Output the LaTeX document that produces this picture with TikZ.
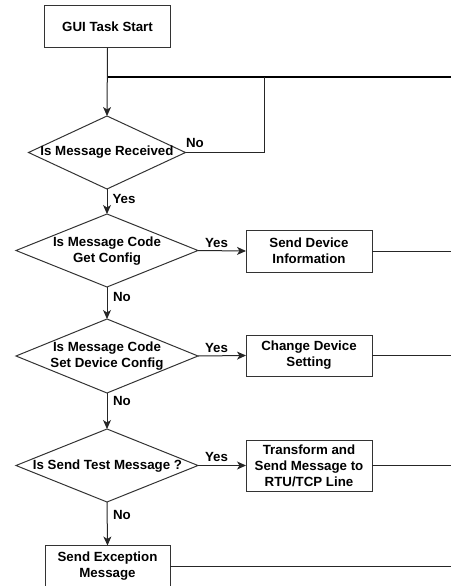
\documentclass[tikz,border=0pt]{standalone}
\usepackage{fontspec}
\setmainfont{Liberation Sans}
\usetikzlibrary{shapes.geometric,arrows.meta}
\begin{document}
\begin{tikzpicture}[x=1bp,y=-1bp,
  txt/.style={font=\fontsize{13.3bp}{16bp}\selectfont\bfseries, align=center, inner sep=0},
  box/.style={txt, draw=black!80, line width=1bp, minimum width=126bp, outer sep=0},
  dec/.style={draw=black!80, shape=diamond, line width=1bp, inner sep=0, outer sep=0},
  flow/.style={line width=1bp, draw=black!85},
  arr/.style={flow, -{Stealth[length=9bp,width=8bp,inset=2.5bp]}}
]
\useasboundingbox (0,0) rectangle (451,586);
\clip (0,0) rectangle (451,586);

% nodes
\node[box, minimum height=42bp] (start) at (107.5,27) {GUI Task Start};

\node[dec, minimum width=157bp, minimum height=73bp] (d1) at (107,152.5) {};
\node[txt] (t1) at (d1.center) {Is Message Received};

\node[dec, minimum width=182bp, minimum height=73bp] (d2) at (107,250.5) {};
\node[txt] (t2) at (107,251) {Is Message Code\\Get Config};

\node[dec, minimum width=182bp, minimum height=74bp] (d3) at (107,356) {};
\node[txt] (t3) at (107,356) {Is Message Code\\Set Device Config};

\node[dec, minimum width=182bp, minimum height=73bp] (d4) at (107,465.5) {};
\node[txt] (t4) at (107.5,466) {Is Send Test Message ?};

\node[box, minimum height=42bp] (b1) at (309,251) {Send Device\\Information};
\node[box, minimum height=41bp] (b2) at (309,355.5) {Change Device\\Setting};
\node[box, minimum height=51bp] (b3) at (309,465.5) {Transform and\\Send Message to\\RTU/TCP Line};
\node[box, minimum width=125bp, minimum height=42bp] (exc) at (107.5,566.5) {Send Exception\\Message};

% coordinates
\coordinate (j) at (107.5,77);
\coordinate (jr) at (455,77);
\coordinate (loop) at (264,77);

% connectors
\draw[arr] (start.south) -- (d1.north);
\draw[line width=1.6bp, black] (j) -- (jr);
\draw[flow] (d1.east) -| (loop);
\draw[arr] (d1.south) -- (d2.north);
\draw[arr] (d2.south) -- (d3.north);
\draw[arr] (d3.south) -- (d4.north);
\draw[arr] (d4.south) -- (exc.north);
\draw[arr] (d2.east) -- (b1.west);
\draw[arr] (d3.east) -- (b2.west);
\draw[arr] (d4.east) -- (b3.west);
\draw[flow] (b1.east) -- (b1.east -| jr);
\draw[flow] (b2.east) -- (b2.east -| jr);
\draw[flow] (b3.east) -- (b3.east -| jr);
\draw[flow] (exc.east) -- (exc.east -| jr);

% labels
\node[txt] (no1) at (195,143) {No};
\node[txt] (yes1) at (124,199) {Yes};
\node[txt] (yes2) at (216.5,242.5) {Yes};
\node[txt] (no2) at (122,297) {No};
\node[txt] (yes3) at (216.5,348) {Yes};
\node[txt] (no3) at (122,401) {No};
\node[txt] (yes4) at (216.5,457) {Yes};
\node[txt] (no4) at (122,515) {No};
\end{tikzpicture}
\end{document}
